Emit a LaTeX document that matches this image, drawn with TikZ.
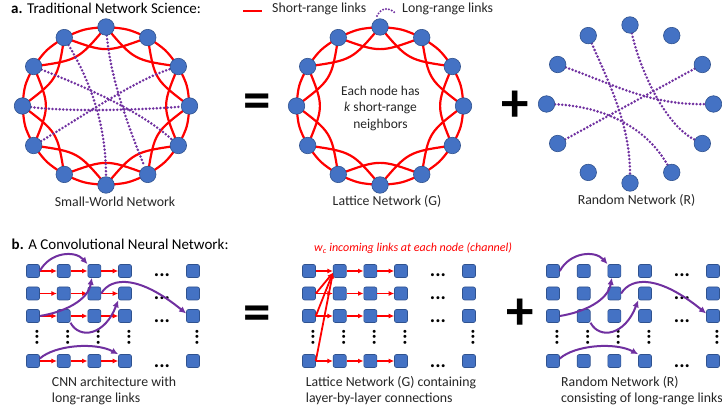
\documentclass[tikz,border=0pt]{standalone}
\usepackage{fontspec}
\setmainfont{Carlito}
\usetikzlibrary{arrows.meta,calc}
\pgfdeclarelayer{paper}
\pgfdeclarelayer{bg}
\pgfsetlayers{paper,bg,main}

\definecolor{nodeblue}{HTML}{4472C4}
\definecolor{nodeedge}{HTML}{2F528F}
\definecolor{linkred}{HTML}{FF0000}
\definecolor{linkpurple}{HTML}{7030A0}
\definecolor{txt}{HTML}{262626}

% 12 circular nodes on an ellipse: #1 prefix, #2/#3 centre
\newcommand\ringnodes[3]{%
  \foreach \k in {0,...,11}{%
    \node[cnode] (#1\k) at ({#2+83.5*cos(30*\k)},{#3-79*sin(30*\k)}) {};
  }%
}
% lattice ring: neighbours at distance 1 (outer arcs) and 2 (inner curves)
\newcommand\ringlinks[3]{%
  \begin{pgfonlayer}{bg}
  \foreach \k [evaluate=\k as \n using {int(mod(\k+1,12))},
               evaluate=\k as \m using {int(mod(\k+2,12))}] in {0,...,11}{%
    \draw[shortlink] (#1\k.center) .. controls
      ({#2+1.012*83.5*cos(30*\k+15)},{#3-1.012*79*sin(30*\k+15)}) .. (#1\n.center);
    \draw[shortlink] (#1\k.center) .. controls
      ({#2+0.671*83.5*cos(30*\k+30)},{#3-0.671*79*sin(30*\k+30)}) .. (#1\m.center);
  }%
  \end{pgfonlayer}
}
% grid of channels x layers: #1 prefix, #2 x of first column
\newcommand\gridnodes[2]{%
  \foreach \c/\dx in {1/0,2/30.7,3/61.3,4/92,5/160}{%
    \foreach \r/\y in {1/271,2/293.5,3/316,5/361}{%
      \node[snode] (#1\c\r) at ({#2+\dx},\y) {};
    }%
    \node[vdots] at ({#2+\dx+4},337) {...};
  }%
  \foreach \y in {277,299.5,322,367}{%
    \node[hdots] at ({#2+129},\y) {...};
  }%
}
\newcommand\gridlayerlinks[1]{%
  \foreach \r in {1,2,3,5}{%
    \foreach \c/\d in {1/2,2/3,3/4}{%
      \draw[redarrow] (#1\c\r) -- (#1\d\r);
    }%
  }%
}
\newcommand\gridlonglinks[2]{%
  \draw[purplearrow] (#111.east) .. controls ({#2+17},252) and ({#2+42},250) .. (#131.north west);
  \draw[purplearrow] (#113.east) .. controls ({#2+32},312) and ({#2+55},300) .. (#131.250);
  \draw[purplearrow] (#132.east) .. controls ({#2+79},276) and ({#2+107},276) .. (#153.160);
  \draw[purplearrow] (#123.south east) .. controls ({#2+47},340) and ({#2+72},335) .. (#142.south west);
  \draw[purplearrow] (#115.20) .. controls ({#2+22},345) and ({#2+62},342) .. (#145.north west);
}

\begin{document}
\begin{tikzpicture}[x=1pt,y=-1pt,
  cnode/.style={circle,fill=nodeblue,draw=nodeedge,line width=0.6pt,minimum size=16.5pt,inner sep=0pt},
  snode/.style={rectangle,rounded corners=2pt,fill=nodeblue,draw=nodeedge,line width=0.6pt,minimum size=13pt,inner sep=0pt},
  shortlink/.style={draw=linkred,line width=2.2pt},
  longlink/.style={draw=linkpurple,line width=2.8pt,line cap=round,dash pattern=on 0pt off 3.6pt},
  redarrow/.style={draw=linkred,line width=1.8pt,-{Latex[length=5.5pt,width=5pt]}},
  purplearrow/.style={draw=linkpurple,line width=2pt,-{Latex[length=7pt,width=6.5pt]}},
  title/.style={font=\fontsize{15}{18}\selectfont,text=black,inner sep=0pt,anchor=base west},
  caption/.style={font=\fontsize{13.8}{16}\selectfont,text=txt,inner sep=0pt},
  bigsign/.style={font=\fontsize{55}{55}\selectfont\bfseries,text=black,inner sep=0pt},
  hdots/.style={font=\fontsize{20}{20}\selectfont\bfseries,text=black,inner sep=0pt,anchor=base},
  vdots/.style={font=\fontsize{20}{20}\selectfont\bfseries,text=black,inner sep=0pt,rotate=90},
]
\useasboundingbox (0,0) rectangle (722,411);
\begin{pgfonlayer}{paper}
  \fill[white] (0,0) rectangle (722,411);
\end{pgfonlayer}

% ---------- part a ----------
\node[title] (ta) at (11,14) {\textbf{a.} Traditional Network Science:};

% legend
\draw[shortlink,line width=2.5pt] (243,11) -- (262,11);
\node[caption,anchor=base west] (legS) at (272,13) {Short-range links};
\draw[longlink,line width=2.2pt,dash pattern=on 0pt off 3pt] (377,16) .. controls (381,7) and (390,7) .. (396,14);
\node[caption,anchor=base west] (legL) at (402,13) {Long-range links};

% small-world network
\ringnodes{sw}{106}{106}
\ringlinks{sw}{106}{106}
\begin{pgfonlayer}{bg}
  \draw[longlink] (sw3) .. controls (111,80) and (128,126) .. (sw10);
  \draw[longlink] (sw4) .. controls (88,78) and (106,120) .. (sw9);
  \draw[longlink] (sw5) .. controls (80,85) and (140,110) .. (sw11);
  \draw[longlink] (sw6) .. controls (70,112) and (140,110) .. (sw0);
  \draw[longlink] (sw7) .. controls (80,118) and (135,80) .. (sw1);
\end{pgfonlayer}
\node[caption,anchor=base] (capSW) at (115,206.5) {Small-World Network};

\node[bigsign] (eq1) at (257,106) {=};

% lattice network
\ringnodes{lt}{380}{106}
\ringlinks{lt}{380}{106}
\node[caption,align=center,font=\fontsize{13.5}{16.5}\selectfont] (each) at (380.5,108)
  {Each node has\\\textit{k} short-range\\neighbors};
\node[caption,anchor=base] (capG) at (387,206) {Lattice Network (G)};

\node[bigsign] (pl1) at (515,106) {+};

% random network
\ringnodes{rn}{630}{104}
\begin{pgfonlayer}{bg}
  \draw[longlink] (rn3) .. controls (640,70) and (665,125) .. (rn11);
  \draw[longlink] (rn4) .. controls (610,85) and (630,125) .. (rn9);
  \draw[longlink] (rn5) .. controls (615,85) and (650,105) .. (rn0);
  \draw[longlink] (rn6) .. controls (600,106) and (645,125) .. (rn10);
  \draw[longlink] (rn7) -- (rn1);
\end{pgfonlayer}
\node[caption,anchor=base] (capR) at (636.5,205) {Random Network (R)};

% ---------- part b ----------
\node[title] (tb) at (11.5,250) {\textbf{b.} A Convolutional Neural Network:};

% CNN with long-range links
\gridnodes{P}{33}
\gridlayerlinks{P}
\gridlonglinks{P}{33}
\node[caption,align=left,anchor=north west] (capP) at (51.7,376.5)
  {CNN architecture with\\long-range links};

\node[bigsign] (eq2) at (257,318) {=};

% lattice part: layer-by-layer links
\node[font=\fontsize{12}{14}\selectfont\itshape,text=linkred,anchor=base west,inner sep=0pt] (wc)
  at (314,252) {w\textsubscript{c} incoming links at each node (channel)};
\gridnodes{M}{309}
\gridlayerlinks{M}
\draw[redarrow] (M12.east) -- (M21.195);
\draw[redarrow] (M13.east) -- (M21.195);
\draw[redarrow] (M15.east) -- (M21.195);
\node[caption,align=left,anchor=north west] (capM) at (305.7,376.5)
  {Lattice Network (G) containing\\layer-by-layer connections};

\node[bigsign] (pl2) at (520,314) {+};

% random part: long-range links only
\gridnodes{Q}{553}
\gridlonglinks{Q}{553}
\node[caption,align=left,anchor=north west] (capQ) at (561,376.5)
  {Random Network (R)\\consisting of long-range links};
\end{tikzpicture}
\end{document}
